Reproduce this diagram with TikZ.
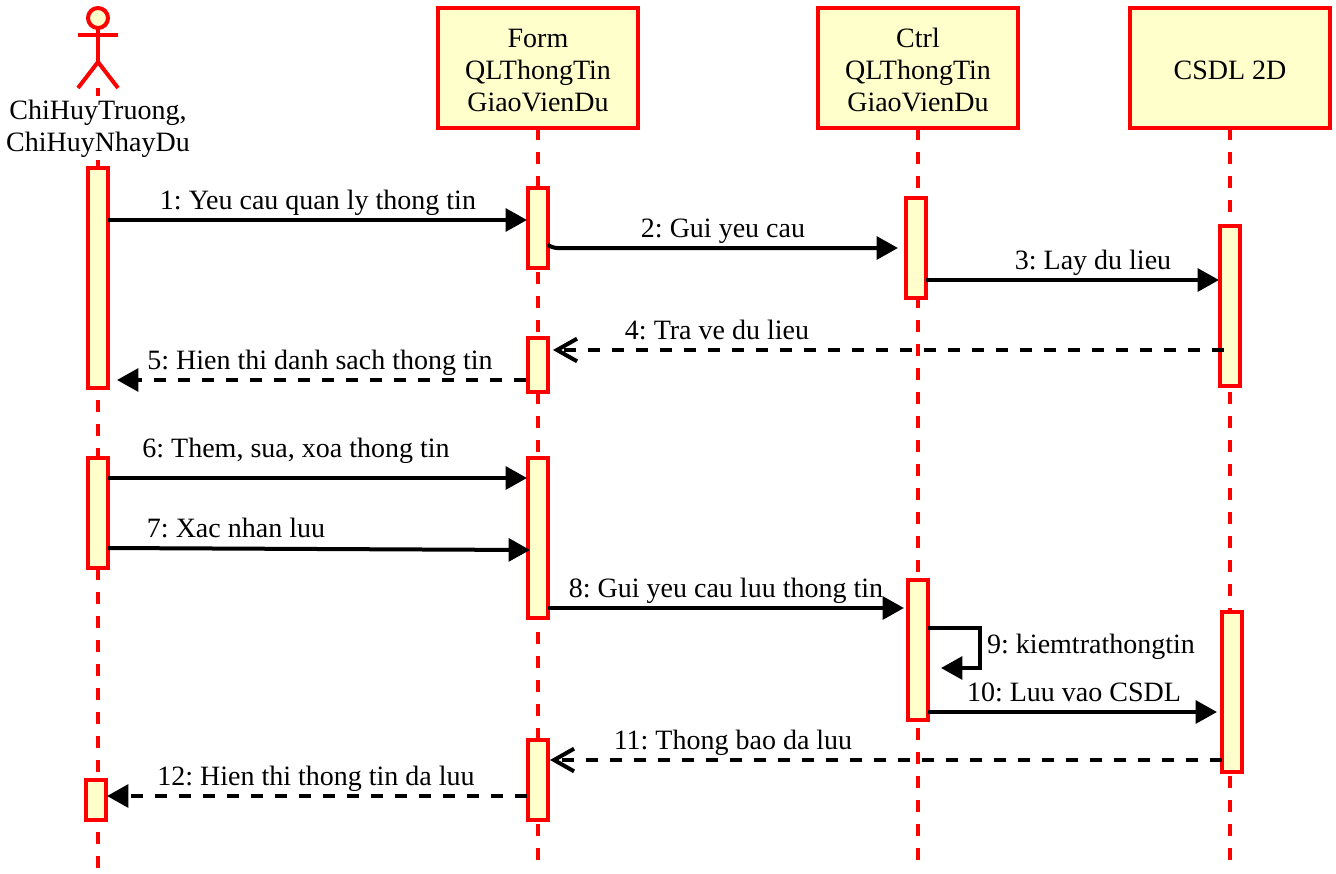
\documentclass[tikz,border=0pt]{standalone}
\usepackage{fontspec}
\setmainfont{Liberation Serif}
\usetikzlibrary{arrows.meta}
\definecolor{paleyellow}{HTML}{FFFFCC}
\newcommand{\lowerline}{\rule{0pt}{17pt}}
\tikzset{
    every node/.style={font=\fontsize{21}{24}\selectfont\frenchspacing, inner sep=0pt, outer sep=0pt},
    objbox/.style={draw=red, fill=paleyellow, line width=3pt, minimum width=150pt, minimum height=90pt, align=center},
    activ/.style={draw=red, fill=paleyellow, line width=3pt, minimum width=15pt},
    lifeline/.style={draw=red, line width=3pt, dash pattern=on 9pt off 9pt},
    actorline/.style={draw=red, line width=3pt},
    msg/.style={line width=3pt, -{Triangle[length=16pt, width=17pt]}},
    reply/.style={line width=3pt, dash pattern=on 9pt off 9pt, -{Triangle[length=16pt, width=17pt]}},
    replyopen/.style={line width=3pt, dash pattern=on 9pt off 9pt, -{Straight Barb[length=15pt, width=17pt, line width=3pt]}},
    msglabel/.style={anchor=base}
}
\begin{document}
\begin{tikzpicture}[x=0.75pt, y=-0.75pt]
    \useasboundingbox (0,0) rectangle (1336,874);

    % Objects
    \node[objbox] (form) at (538,68) {\lowerline Form\\QLThongTin\\GiaoVienDu};
    \node[objbox] (ctrl) at (918,68) {\lowerline Ctrl\\QLThongTin\\GiaoVienDu};
    \node[objbox] (csdl) at (1230,68) {\lowerline CSDL 2D};

    % Lifelines
    \coordinate (actorTop) at (98,88);
    \coordinate (actorEnd) at (98,868);
    \coordinate (formEnd) at (538,860);
    \coordinate (ctrlEnd) at (918,860);
    \coordinate (csdlEnd) at (1230,860);
    \draw[lifeline] (actorTop) -- (actorEnd);
    \draw[lifeline] (form.south) -- (formEnd);
    \draw[lifeline] (ctrl.south) -- (ctrlEnd);
    \draw[lifeline] (csdl.south) -- (csdlEnd);

    % Actor
    \draw[actorline, fill=paleyellow] (98,18) circle (10);
    \draw[actorline] (98,28) -- (98,62);
    \draw[actorline] (78,35) -- (118,35);
    \draw[actorline] (78,88) -- (98,62) -- (118,88);
    \node[fill=white, align=center, minimum height=46pt, minimum width=142pt] (actor) at (98,127) {\lowerline ChiHuyTruong,\\ChiHuyNhayDu};

    % Activations
    \node[activ, minimum height=165pt] (actA1) at (98,278) {};
    \node[activ, minimum height=82.5pt] (actA2) at (98,513) {};
    \node[activ, minimum height=30pt] (actA3) at (96,800) {};
    \node[activ, minimum height=60pt] (actF1) at (538,228) {};
    \node[activ, minimum height=40.5pt] (actF2) at (538,365) {};
    \node[activ, minimum height=120pt] (actF3) at (538,538) {};
    \node[activ, minimum height=60pt] (actF4) at (538,780) {};
    \node[activ, minimum height=75pt] (actC1) at (916,248) {};
    \node[activ, minimum height=105pt] (actC2) at (918,650) {};
    \node[activ, minimum height=120pt] (actD1) at (1230,306) {};
    \node[activ, minimum height=120pt] (actD2) at (1232,692) {};

    % Messages
    \draw[msg, shorten >=0.75pt] (actA1.east |- 0,220) -- (actF1.west |- 0,220);
    \node[msglabel] (lbl1) at (318,209) {1: Yeu cau quan ly thong tin};
    \draw[msg, shorten >=6pt, rounded corners=4pt] (actF1.east |- 0,245) -- (552,248) -- (actC1.west |- 0,248);
    \node[msglabel] (lbl2) at (723,237) {2: Gui yeu cau};
    \draw[msg, shorten >=0.75pt] (actC1.east |- 0,280) -- (actD1.west |- 0,280);
    \node[msglabel] (lbl3) at (1093,269) {3: Lay du lieu};
    \draw[replyopen, shorten >=3.75pt, shorten <=-3pt] (actD1.west |- 0,350) -- (actF2.east |- 0,350);
    \node[msglabel] (lbl4) at (717,339) {4: Tra ve du lieu};
    \draw[reply, shorten >=6.75pt, shorten <=1.5pt] (actF2.west |- 0,380) -- (actA1.east |- 0,380);
    \node[msglabel] (lbl5) at (320,369) {5: Hien thi danh sach thong tin};
    \draw[msg, shorten >=0.75pt] (actA2.east |- 0,478) -- (actF3.west |- 0,478);
    \node[msglabel] (lbl6) at (296,457) {6: Them, sua, xoa thong tin};
    \draw[msg, shorten >=-1.5pt] (actA2.east |- 0,548) -- (actF3.west |- 0,550);
    \node[msglabel] (lbl7) at (236,537) {7: Xac nhan luu};
    \draw[msg, shorten >=3pt] (actF3.east |- 0,608) -- (actC2.west |- 0,608);
    \node[msglabel] (lbl8) at (726,597) {8: Gui yeu cau luu thong tin};
    \draw[msg] (actC2.east |- 0,628) -- (980,628) -- (980,668) -- (941,668);
    \node[msglabel] (lbl9) at (1091,653) {9: kiemtrathongtin};
    \draw[msg, shorten >=3.75pt] (actC2.east |- 0,712) -- (actD2.west |- 0,712);
    \node[msglabel] (lbl10) at (1074,701) {10: Luu vao CSDL};
    \draw[replyopen, shorten >=1.5pt] (actD2.west |- 0,760) -- (actF4.east |- 0,760);
    \node[msglabel] (lbl11) at (733,749) {11: Thong bao da luu};
    \draw[reply, shorten >=0.75pt, shorten <=0.75pt] (actF4.west |- 0,796) -- (actA3.east |- 0,796);
    \node[msglabel] (lbl12) at (316,785) {12: Hien thi thong tin da luu};
\end{tikzpicture}
\end{document}
